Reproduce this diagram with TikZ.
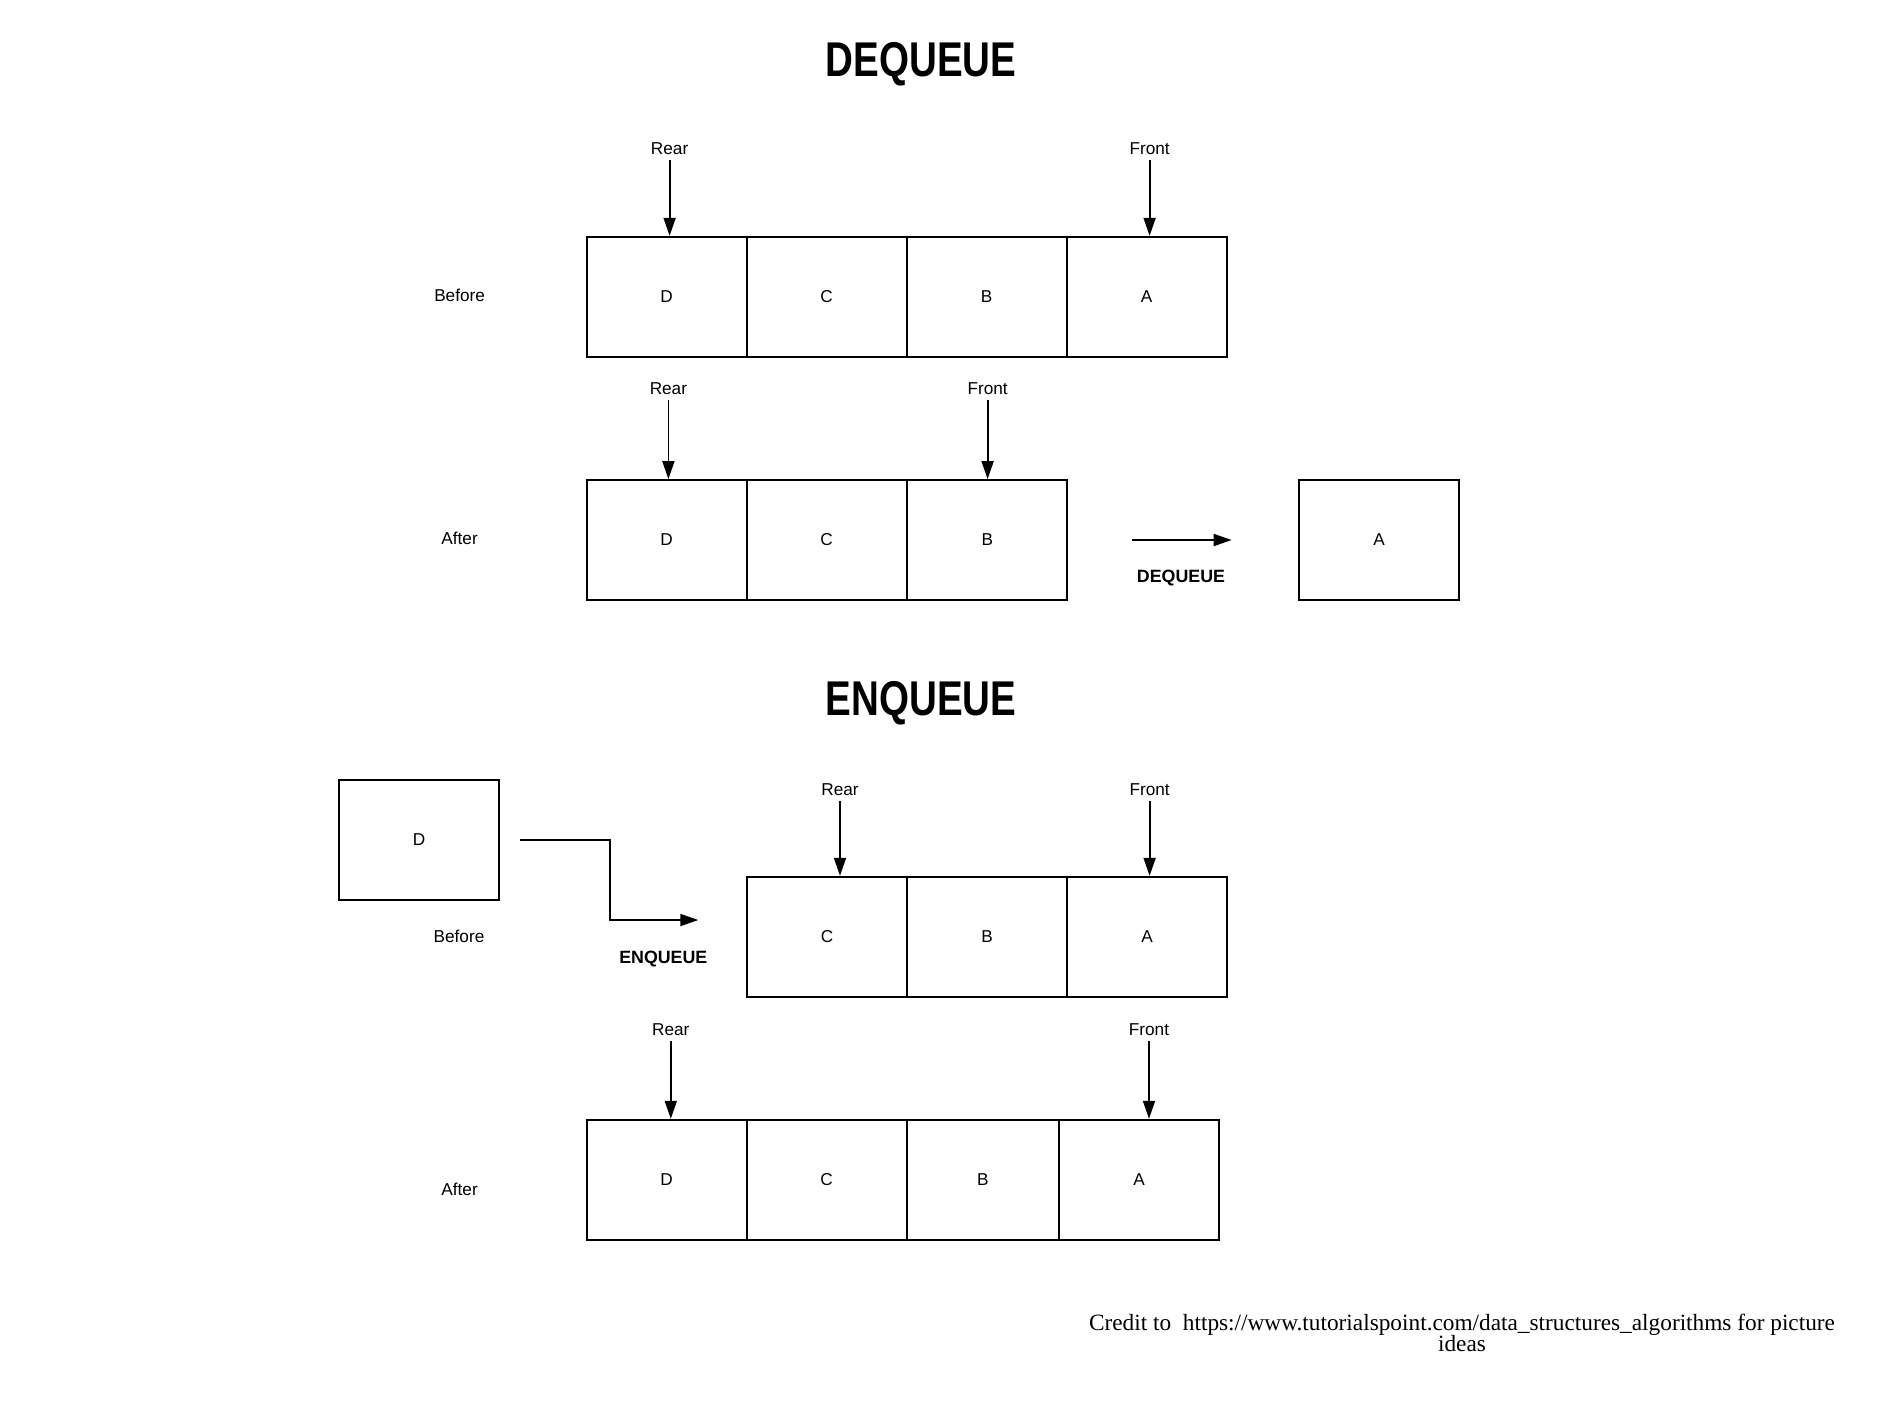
\documentclass[tikz,border=0pt]{standalone}
\usepackage{fontspec}
\setmainfont{Liberation Sans}
\newfontfamily\creditfont{Liberation Serif}
\usetikzlibrary{arrows.meta}
\begin{document}
\begin{tikzpicture}[x=0.5pt,y=-0.5pt,
  cell/.style={draw,line width=0.9pt,minimum width=80pt,minimum height=60pt,inner sep=0pt,font=\fontsize{8.6}{10}\selectfont},
  lbl/.style={font=\fontsize{8.6}{10}\selectfont,inner sep=0pt},
  oplbl/.style={font=\fontsize{8.9}{10}\selectfont\bfseries,inner sep=0pt},
  title/.style={font=\fontsize{24.4}{26}\selectfont\bfseries,inner sep=0pt},
  ptr/.style={-{Triangle[length=9pt,width=6pt]},line width=0.9pt},
  ptrd/.style={ptr,shorten <=2.5pt}
]
\useasboundingbox[fill=white] (0,0) rectangle (1880,1403);

% ---------- DEQUEUE ----------
\node[title] (t1) at (921,64) {\scalebox{0.79}[1]{DEQUEUE}};

% before
\node[cell] (b1d) at (666.7,296.7) {D};
\node[cell] (b1c) at (826.7,296.7) {C};
\node[cell] (b1b) at (986.7,296.7) {B};
\node[cell] (b1a) at (1146.7,296.7) {A};
\node[lbl] (lb1) at (459.6,295.2) {Before};
\node[lbl] (r1) at (669.6,149) {Rear};
\node[lbl] (f1) at (1149.6,149) {Front};
\draw[ptrd] (r1.south) -- (r1 |- b1d.north);
\draw[ptrd] (f1.south) -- (f1 |- b1a.north);

% after
\node[cell] (a1d) at (666.7,540) {D};
\node[cell] (a1c) at (826.7,540) {C};
\node[cell] (a1b) at (987.3,540) {B};
\node[cell] (a1x) at (1379,540) {A};
\node[lbl] (la1) at (459.6,538.8) {After};
\node[lbl] (r2) at (668.4,389) {Rear};
\node[lbl] (f2) at (987.6,389) {Front};
\draw[ptrd] (r2.south) -- (r2 |- a1d.north);
\draw[ptrd] (f2.south) -- (f2 |- a1b.north);
\coordinate (dqs) at (1131.7,540);
\coordinate (dqe) at (1231.7,540);
\draw[ptr] (dqs) -- (dqe);
\node[oplbl] (dql) at (1181,578.3) {DEQUEUE};

% ---------- ENQUEUE ----------
\node[title] (t2) at (921,703) {\scalebox{0.79}[1]{ENQUEUE}};

% before
\node[cell] (nd) at (419,840) {D};
\node[cell] (b2c) at (827,936.7) {C};
\node[cell] (b2b) at (987,936.7) {B};
\node[cell] (b2a) at (1147,936.7) {A};
\node[lbl] (lb2) at (459,936) {Before};
\node[lbl] (r3) at (840,789.6) {Rear};
\node[lbl] (f3) at (1149.6,789.6) {Front};
\draw[ptrd] (r3.south) -- (r3 |- b2c.north);
\draw[ptrd] (f3.south) -- (f3 |- b2a.north);
\coordinate (enqe) at (698.3,920);
\draw[ptr,shorten <=10pt] (nd.east) -- ++(110,0) |- (enqe);
\node[oplbl] (eql) at (663.3,958.7) {ENQUEUE};

% after
\node[cell] (a2d) at (666.7,1179.7) {D};
\node[cell] (a2c) at (826.7,1179.7) {C};
\node[cell,minimum width=76.15pt] (a2b) at (982.85,1179.7) {B};
\node[cell,minimum width=80.15pt] (a2a) at (1139.15,1179.7) {A};
\node[lbl] (la2) at (459.6,1189.2) {After};
\node[lbl] (r4) at (670.8,1029.6) {Rear};
\node[lbl] (f4) at (1149,1029.6) {Front};
\draw[ptrd] (r4.south) -- (r4 |- a2d.north);
\draw[ptrd] (f4.south) -- (f4 |- a2a.north);

% credit
\node[font=\creditfont\fontsize{11.65}{10.8}\selectfont,align=center,inner sep=0pt] (cr) at (1462,1333)
  {Credit to\ \ https://www.tutorialspoint.com/data\_structures\_algorithms for picture\\ideas};
\end{tikzpicture}
\end{document}
